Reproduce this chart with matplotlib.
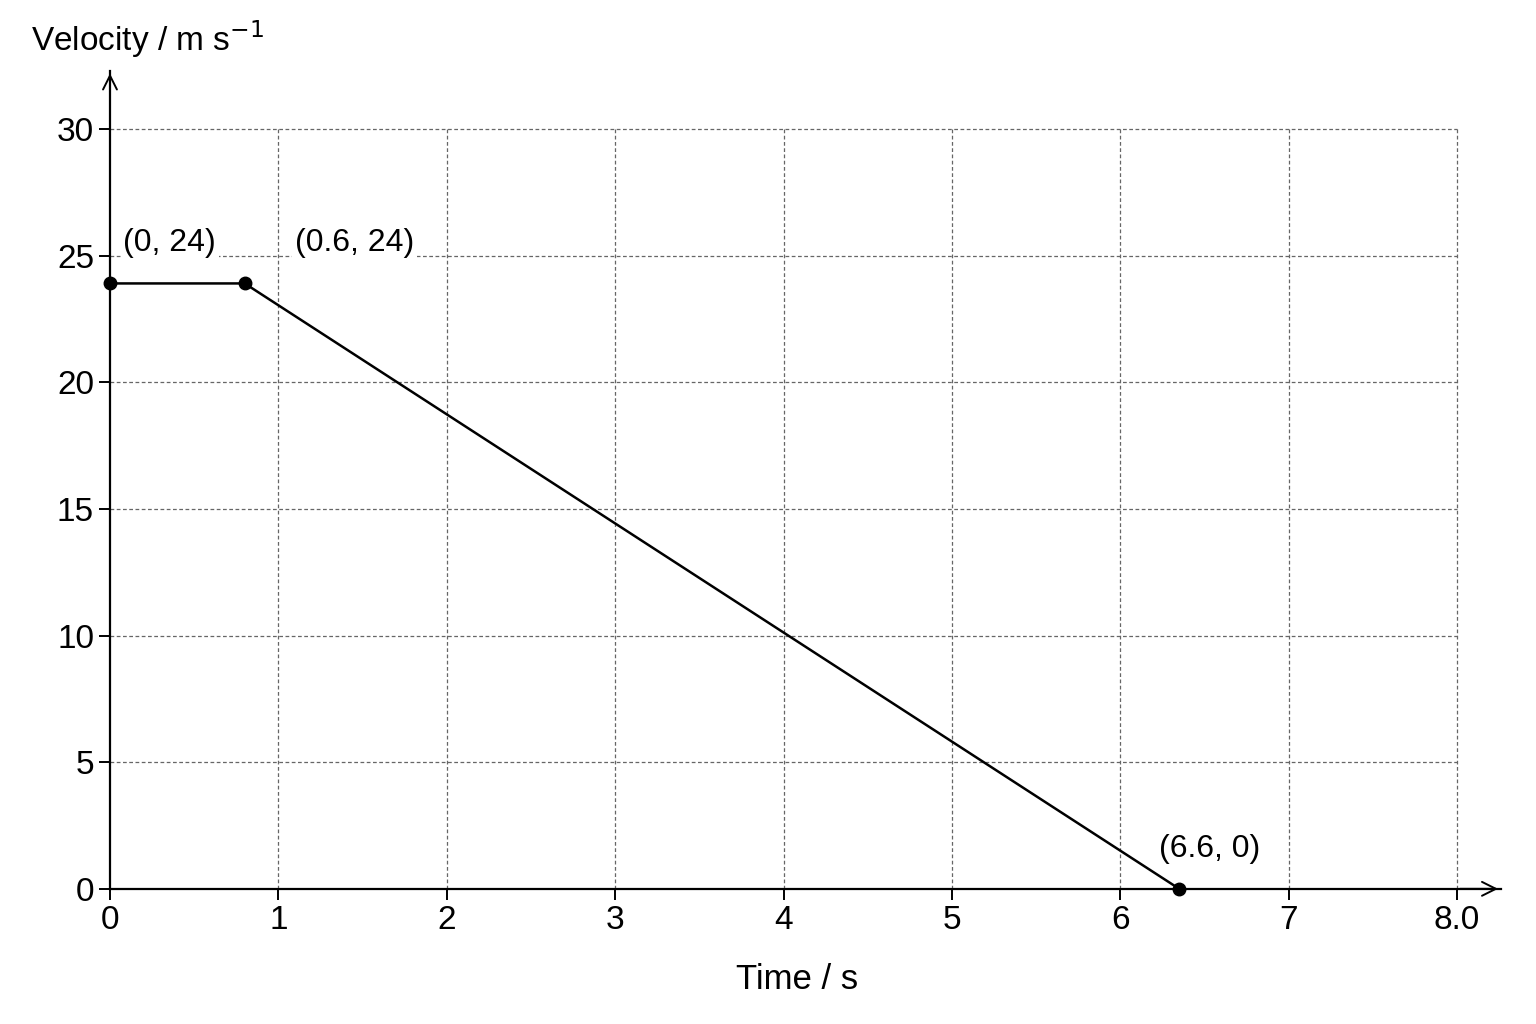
import matplotlib.pyplot as plt

# points as they sit in the picture, labels as printed
point_x = [0.0, 0.8, 6.35]
point_y = [23.9, 23.9, 0.0]
point_labels = ["(0, 24)", "(0.6, 24)", "(6.6, 0)"]
label_offsets = [(0.08, 1.0), (0.3, 1.0), (-0.12, 1.0)]

x_ticks = [0, 1, 2, 3, 4, 5, 6, 7, 8]
x_tick_labels = ["0", "1", "2", "3", "4", "5", "6", "7", "8.0"]
y_ticks = [0, 5, 10, 15, 20, 25, 30]

plt.rcParams['font.family'] = ['Liberation Sans', 'DejaVu Sans']

fig = plt.figure(figsize=(15.36, 10.24), dpi=100)
ax = fig.add_axes([0.0716, 0.132, 0.9055, 0.799])
ax.set_xlim(0, 8.26)
ax.set_ylim(0, 32.3)

for xt in x_ticks[1:]:
    ax.plot([xt, xt], [0, 30], color='#666666', ls=(0, (3, 2)), lw=0.9, zorder=1)
for yt in y_ticks[1:]:
    ax.plot([0, 8], [yt, yt], color='#666666', ls=(0, (3, 2)), lw=0.9, zorder=1)

for s in ['top', 'right']:
    ax.spines[s].set_visible(False)
for s in ['left', 'bottom']:
    ax.spines[s].set_linewidth(1.6)

# arrow heads
ax.annotate('', xy=(8.26, 0), xytext=(8.0, 0),
            arrowprops=dict(arrowstyle='->', lw=1.4, mutation_scale=25), annotation_clip=False)
ax.annotate('', xy=(0, 32.3), xytext=(0, 30.5),
            arrowprops=dict(arrowstyle='->', lw=1.4, mutation_scale=25), annotation_clip=False)

ax.plot(point_x, point_y, color='black', lw=1.8, zorder=3)
ax.plot(point_x, point_y, 'o', color='black', ms=9, zorder=4, clip_on=False)

for x, y, lab, (dx, dy) in zip(point_x, point_y, point_labels, label_offsets):
    ax.text(x + dx, y + dy, lab, fontsize=23, va='bottom', ha='left', zorder=5,
            bbox=dict(facecolor='white', edgecolor='none', pad=2))

ax.set_xticks(x_ticks)
ax.set_xticklabels(x_tick_labels)
ax.set_yticks(y_ticks)
ax.tick_params(labelsize=24, length=8, width=1.4)

fig.text(0.519, 0.043, "Time / s", fontsize=25, ha='center', va='center')
fig.text(0.02, 0.962, "Velocity / m s$^{-1}$", fontsize=24, ha='left', va='center')

fig.savefig("out.png", dpi=100, facecolor='white')
